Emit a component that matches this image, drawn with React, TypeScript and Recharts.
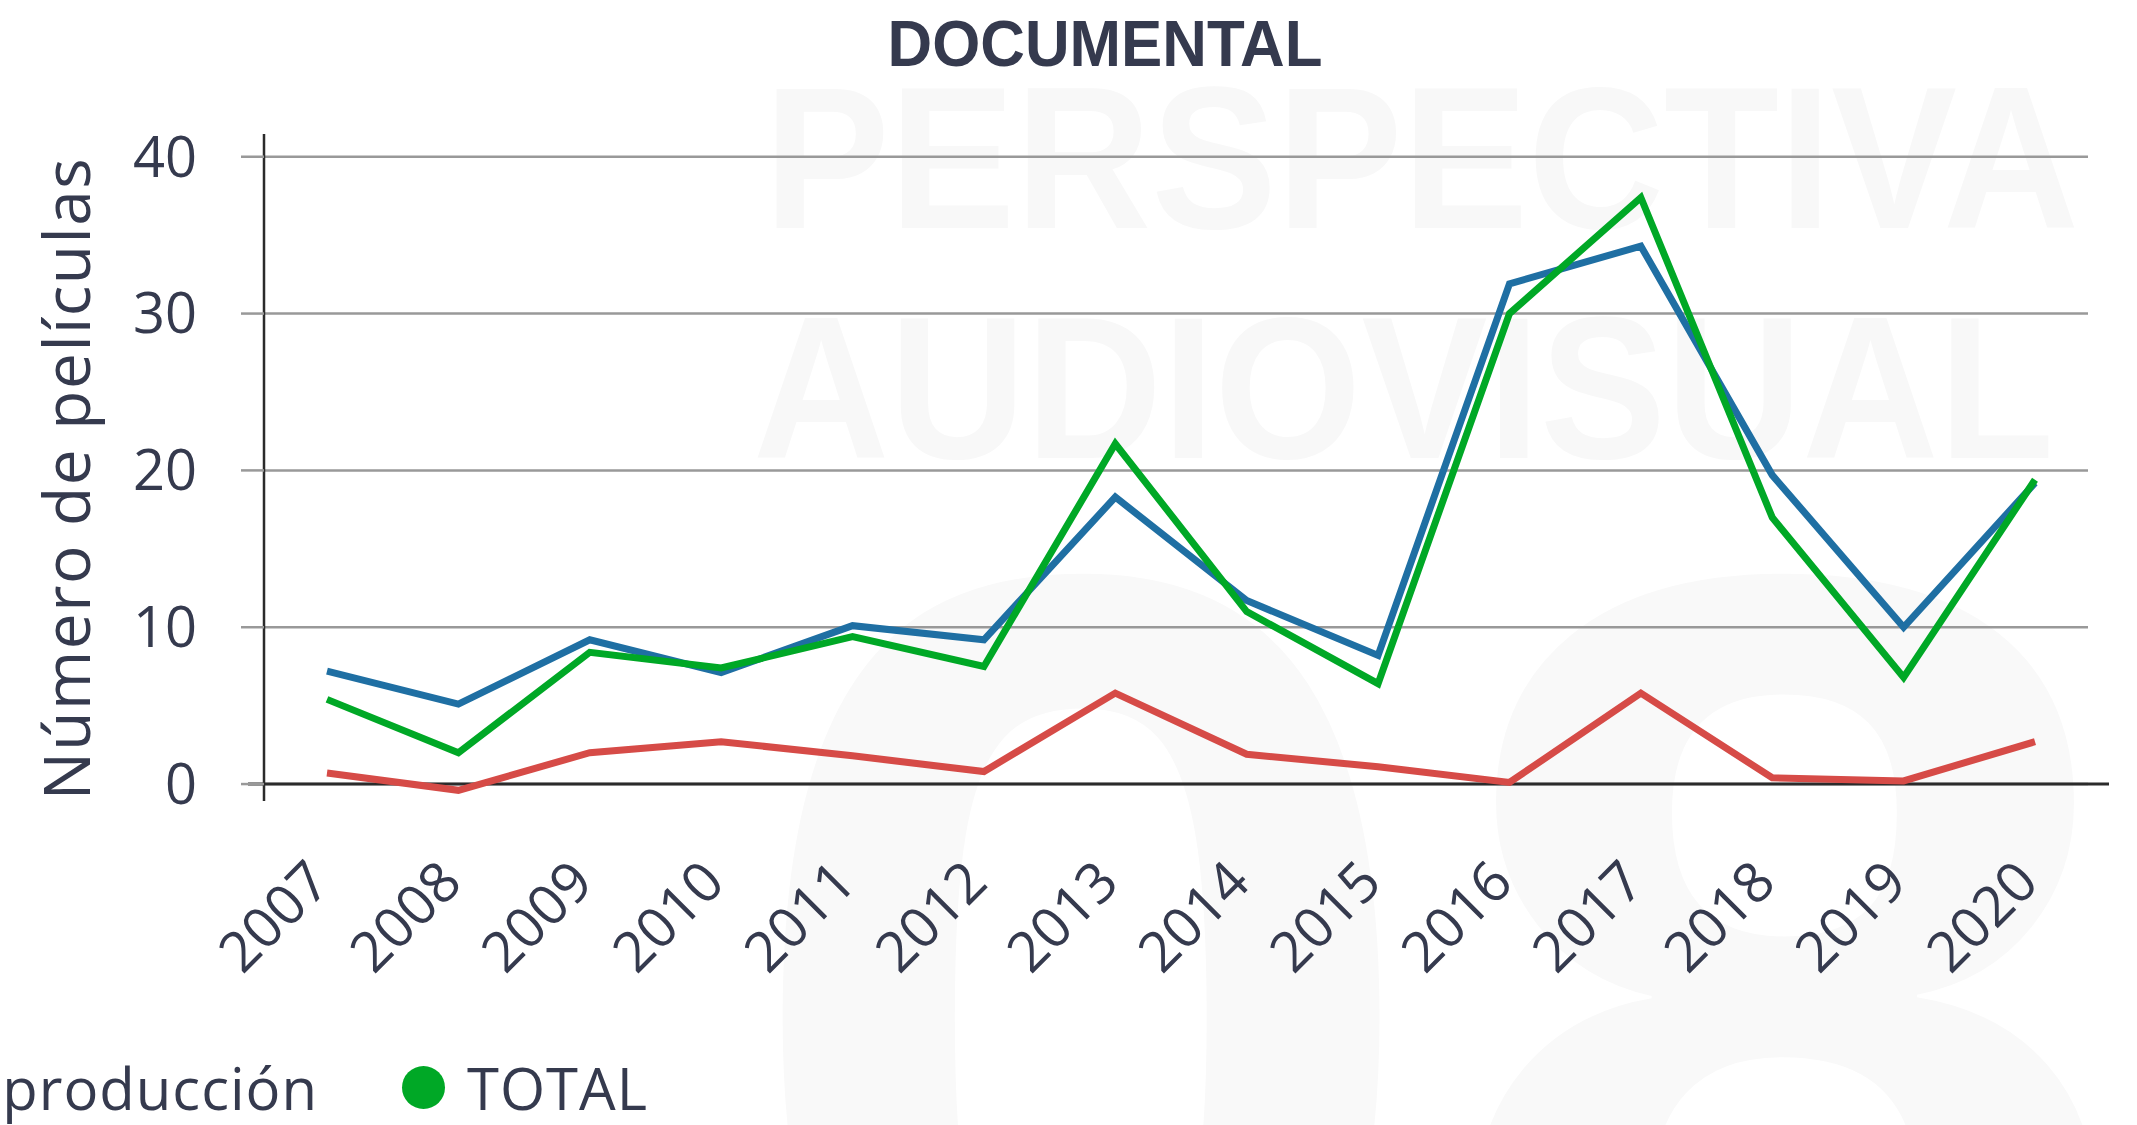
import { LineChart, Line, XAxis, YAxis, CartesianGrid, ReferenceLine, Legend } from 'recharts';

const years = ['2007', '2008', '2009', '2010', '2011', '2012', '2013', '2014', '2015', '2016', '2017', '2018', '2019', '2020'];
const nacional = [7.2, 5.1, 9.2, 7.1, 10.1, 9.2, 18.3, 11.7, 8.2, 31.9, 34.3, 19.7, 10.0, 19.2];
const coproduccion = [0.7, -0.4, 2.0, 2.7, 1.8, 0.8, 5.8, 1.9, 1.1, 0.1, 5.8, 0.4, 0.2, 2.7];
const total = [5.4, 2.0, 8.4, 7.4, 9.4, 7.5, 21.7, 11.0, 6.4, 30.0, 37.4, 17.0, 6.8, 19.4];
const yTicks = [0, 10, 20, 30, 40];

const series = [
  { key: 'nacional', name: 'Producción nacional', color: '#1f6fa3' },
  { key: 'coproduccion', name: 'Coproducción', color: '#d64b47' },
  { key: 'total', name: 'TOTAL', color: '#00a826' },
];

const data = years.map((year, i) => ({
  year,
  nacional: nacional[i],
  coproduccion: coproduccion[i],
  total: total[i],
}));

const TEXT = '#353a4e';
const FONT = "'Open Sans', sans-serif";

function YearTick({ x, y, payload }: any) {
  const tx = x + 6;
  const ty = y + 84;
  return (
    <text x={tx} y={ty} transform={`rotate(-45 ${tx} ${ty})`} textAnchor="end" fontSize={56} fill={TEXT} fontFamily={FONT}>
      {payload.value}
    </text>
  );
}

function YLabel({ viewBox }: any) {
  const cx = viewBox.x + 90;
  const cy = viewBox.y + viewBox.height / 2 + 11;
  return (
    <text x={cx} y={cy} transform={`rotate(-90 ${cx} ${cy})`} textAnchor="middle" fontSize={64} letterSpacing={1.5} fill={TEXT} fontFamily={FONT}>
      Número de películas
    </text>
  );
}

function ZeroLine(props: any) {
  const { x1, x2, y1 } = props;
  return <line x1={x1 - 16} x2={x2 + 21} y1={y1} y2={y1} stroke="#2b2b2b" strokeWidth={3} />;
}

function LegendContent({ payload }: any) {
  return (
    <div style={{ height: 90, display: 'flex', justifyContent: 'flex-end', alignItems: 'center', fontFamily: FONT, fontSize: 58, color: TEXT, whiteSpace: 'nowrap', letterSpacing: 1 }}>
      {(payload || []).map((p: any) => (
        <div key={p.value} style={{ display: 'flex', alignItems: 'center', marginLeft: 84 }}>
          <span style={{ display: 'inline-block', width: 43, height: 43, borderRadius: '50%', background: p.color, marginRight: 22 }} />
          <span>{p.value}</span>
        </div>
      ))}
    </div>
  );
}

const legendOrder = (item: any) => series.findIndex((s) => s.name === item.value);

export default function App() {
  return (
    <div style={{ position: 'absolute', left: 0, top: 0, width: 2137, height: 1125, overflow: 'hidden', background: '#fff' }}>
      <svg width={2137} height={1125} style={{ position: 'absolute', left: 0, top: 0 }}>
        <g fontFamily="'Liberation Sans', Arial, sans-serif" fontWeight="bold">
          <text x={764} y={228} fontSize={202} textLength={1315} lengthAdjust="spacingAndGlyphs" fill="#f8f8f8">PERSPECTIVA</text>
          <text x={753} y={458} fontSize={202} textLength={1301} lengthAdjust="spacingAndGlyphs" fill="#f8f8f8">AUDIOVISUAL</text>
          <text x={1082} y={1450} fontSize={1255} textAnchor="middle" fill="#f9f9f9">0</text>
          <text x={1785} y={1450} fontSize={1255} textAnchor="middle" fill="#f9f9f9">8</text>
          <text x={1105} y={66} fontSize={64} textAnchor="middle" textLength={435} lengthAdjust="spacingAndGlyphs" fill={TEXT}>DOCUMENTAL</text>
        </g>
      </svg>
      <div style={{ position: 'absolute', left: 0, top: 0 }}>
        <LineChart width={2137} height={1125} data={data} margin={{ top: 134, right: 49, bottom: 124, left: 0 }}>
          <CartesianGrid vertical={false} horizontalValues={yTicks} stroke="#999" strokeWidth={2.5} />
          <XAxis
            dataKey="year"
            scale="point"
            padding={{ left: 63, right: 53 }}
            height={200}
            axisLine={false}
            tickLine={false}
            tickSize={0}
            tickMargin={0}
            interval={0}
            tick={<YearTick />}
          />
          <YAxis
            width={264}
            domain={[-1.08, 41.45]}
            ticks={yTicks}
            allowDataOverflow
            axisLine={{ stroke: '#2b2b2b', strokeWidth: 2.5 }}
            tickLine={{ stroke: '#999', strokeWidth: 2.5 }}
            tickSize={23}
            tickMargin={44}
            tick={{ fontSize: 56, fill: TEXT, fontFamily: FONT }}
            label={<YLabel />}
          />
          <ReferenceLine y={0} shape={<ZeroLine />} />
          {series.map((s) => (
            <Line
              key={s.key}
              type="linear"
              dataKey={s.key}
              name={s.name}
              stroke={s.color}
              strokeWidth={7}
              dot={false}
              activeDot={false}
              isAnimationActive={false}
            />
          ))}
          <Legend
            layout="horizontal"
            verticalAlign="middle"
            align="center"
            itemSorter={legendOrder}
            content={<LegendContent />}
            wrapperStyle={{ position: 'absolute', left: -752, top: 1042, width: 1400, height: 90 }}
          />
        </LineChart>
      </div>
    </div>
  );
}
